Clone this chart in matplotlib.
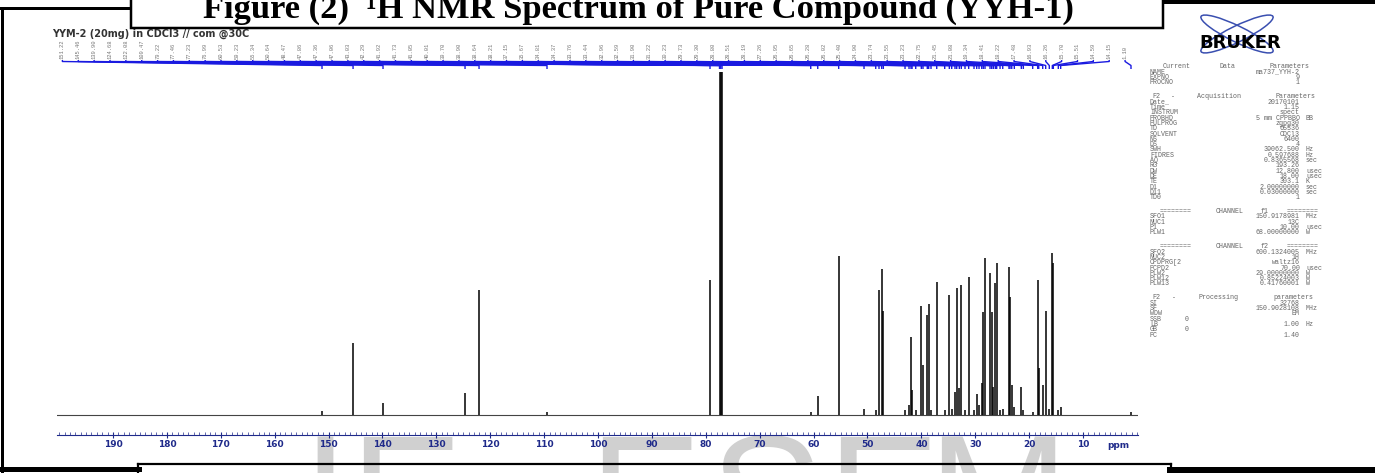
import matplotlib
matplotlib.use('Agg')
import matplotlib.pyplot as plt
import matplotlib.transforms as mtransforms
from matplotlib.collections import LineCollection
from matplotlib.patches import Rectangle, Ellipse
from matplotlib.ticker import MultipleLocator
import numpy as np

# picked peaks: position (ppm) and height (arbitrary units, baseline = 0)
peak_ppm = [151.22, 145.46, 139.90, 124.68, 122.08, 109.47, 79.22, 77.46, 77.23, 76.99,
            60.53, 59.23, 55.34, 50.64, 48.47, 47.86, 47.36, 47.06, 43.03, 42.29,
            41.92, 41.73, 41.05, 40.01, 39.70, 38.90, 38.64, 38.21, 37.15, 35.67,
            34.81, 34.37, 33.76, 33.44, 32.96, 32.59, 31.90, 31.22, 30.23, 29.73,
            29.30, 28.80, 28.51, 28.19, 27.26, 26.95, 26.65, 26.28, 26.02, 25.40,
            24.90, 23.74, 23.55, 23.23, 22.75, 21.45, 21.08, 19.34, 18.41, 18.22,
            17.48, 16.93, 16.26, 15.70, 15.51, 14.59, 14.15, 1.10]
peak_height = [4, 72, 12, 22, 125, 3, 135, 400, 420, 400,
               3, 19, 159, 6, 5, 125, 146, 104, 5, 10,
               78, 25, 5, 109, 50, 100, 111, 5, 133, 5,
               120, 6, 23, 127, 27, 130, 5, 138, 5, 21,
               10, 32, 103, 157, 142, 103, 28, 132, 152, 5,
               6, 148, 118, 30, 8, 28, 5, 3, 135, 47,
               30, 104, 6, 162, 152, 5, 8, 3]

tick_ppm = list(range(10, 200, 10))

title = 'Figure (2)  \u00b9H NMR Spectrum of Pure Compound (YYH-1)'
sample = 'YYM-2 (20mg) in CDCl3 // com @30C'

# faint page watermark, only the tops of the letters show
mark_letters = ['I', 'E', 'E', 'S', 'E', 'M']
mark_x = [301, 349, 588, 709, 826, 927]

param_lines = [
    ['Current Data Parameters'],
    ['NAME', 'ma737_YYH-2', ''],
    ['EXPNO', '9', ''],
    ['PROCNO', '1', ''],
    None,
    ['F2 - Acquisition Parameters'],
    ['Date_', '20170101', ''],
    ['Time', '1.15', ''],
    ['INSTRUM', 'spect', ''],
    ['PROBHD', '5 mm CPPBBO', 'BB'],
    ['PULPROG', 'zgpg30', ''],
    ['TD', '65536', ''],
    ['SOLVENT', 'CDCl3', ''],
    ['NS', '6400', ''],
    ['DS', '4', ''],
    ['SWH', '39062.500', 'Hz'],
    ['FIDRES', '0.597688', 'Hz'],
    ['AQ', '0.8365568', 'sec'],
    ['RG', '193.26', ''],
    ['DW', '12.800', 'usec'],
    ['DE', '18.00', 'usec'],
    ['TE', '303.1', 'K'],
    ['D1', '2.00000000', 'sec'],
    ['D11', '0.03000000', 'sec'],
    ['TD0', '1', ''],
    None,
    ['======== CHANNEL f1 ========'],
    ['SFO1', '150.9178981', 'MHz'],
    ['NUC1', '13C', ''],
    ['P1', '10.00', 'usec'],
    ['PLW1', '68.00000000', 'W'],
    None,
    ['======== CHANNEL f2 ========'],
    ['SFO2', '600.1324005', 'MHz'],
    ['NUC2', '1H', ''],
    ['CPDPRG[2', 'waltz16', ''],
    ['PCPD2', '70.00', 'usec'],
    ['PLW2', '29.00000000', 'W'],
    ['PLW12', '0.85224003', 'W'],
    ['PLW13', '0.41760001', 'W'],
    None,
    ['F2 - Processing parameters'],
    ['SI', '32768', ''],
    ['SF', '150.9028108', 'MHz'],
    ['WDW', 'EM', ''],
    ['SSB', '0', ''],
    ['LB', '1.00', 'Hz'],
    ['GB', '0', ''],
    ['PC', '1.40', ''],
]

W, H = 1375, 473
fig = plt.figure(figsize=(W / 100, H / 100), dpi=100)

# overlay in pixel units for the page decorations
over = fig.add_axes([0, 0, 1, 1])
over.set_xlim(0, W)
over.set_ylim(H, 0)
over.axis('off')

for ch, mx in zip(mark_letters, mark_x):
    over.text(mx, 553, ch, family='Liberation Sans', fontsize=122, color='#d0d0d0',
              ha='left', va='baseline', zorder=0)

# spectrum axes
ax = fig.add_axes([57 / W, 1 - 435 / H, (1138 - 57) / W, (435 - 72) / H], zorder=2)
ax.patch.set_alpha(0)
ax.set_xlim(200.4, -0.2)
ax.set_ylim(-20, 343)
ax.axhline(0, color='#444444', lw=0.8)
ax.vlines(peak_ppm, 0, peak_height, color='black', lw=1.1)
ax.set_yticks([])
for s in ['left', 'right', 'top']:
    ax.spines[s].set_visible(False)
navy = '#1f2a8a'
ax.spines['bottom'].set_color(navy)
ax.spines['bottom'].set_linewidth(0.8)
ax.spines['bottom'].set_linestyle((0, (2, 1)))
ax.set_xticks(tick_ppm)
ax.set_xticklabels([str(t) for t in tick_ppm], fontsize=6.5, fontweight='bold', color=navy)
ax.xaxis.set_minor_locator(MultipleLocator(1))
ax.tick_params(axis='x', which='major', direction='inout', length=5, width=0.8, color=navy, pad=1)
ax.tick_params(axis='x', which='minor', direction='in', length=2, width=0.5, color=navy)
ax.text(3.5, -26, 'ppm', fontsize=6.5, fontweight='bold', color=navy,
        ha='center', va='top')

# peak labels and connectors above the spectrum
blend = mtransforms.blended_transform_factory(ax.transData, over.transData)
order = np.argsort(peak_ppm)[::-1]
lab_x = np.linspace(199.4, 2.2, len(peak_ppm))
segs = []
for lx, i in zip(lab_x, order):
    px = peak_ppm[i]
    segs.append([(lx, 60), (lx, 61.5), (px, 65.5), (px, 69)])
    ax.text(lx, 59, f'{px:.2f}', transform=blend, rotation=90, fontsize=4,
            color='#777777', ha='center', va='bottom', clip_on=False,
            family='Liberation Mono')
lc = LineCollection(segs, colors='#1a1ae0', linewidths=1.0, transform=blend, clip_on=False)
ax.add_collection(lc)

over.text(52, 33.5, sample, fontsize=7, fontweight='bold', color='#333333',
          ha='left', va='center')

# frame of the page
k = 0.72
over.plot([2, 2], [8, 473], color='black', lw=3 * k, solid_capstyle='butt')
over.plot([0, 132], [8.5, 8.5], color='black', lw=3 * k)
over.add_patch(Rectangle((131.5, -5), 1163.5 - 131.5, 33, facecolor='white',
                         edgecolor='black', lw=2.5 * k, zorder=3))
over.plot([1163, W], [2, 2], color='black', lw=4 * k)
over.plot([0, 139], [469, 469], color='black', lw=5 * k)
over.plot([138.5, 1171], [464, 464], color='black', lw=2.2 * k)
over.plot([138.5, 138.5], [464, 473], color='black', lw=2.2 * k)
over.plot([1171, 1171], [464, 473], color='black', lw=2.2 * k)
over.plot([1170, W], [469.5, 469.5], color='black', lw=6 * k)
over.text(203, 18, title, family='Liberation Serif', fontweight='bold', fontsize=24.8,
          ha='left', va='baseline', zorder=4)

# Bruker logo
over.add_patch(Ellipse((1237, 34), 80, 16, angle=26, fill=False, ec='#3a4fb0', lw=1.1))
over.add_patch(Ellipse((1237, 34), 80, 16, angle=-26, fill=False, ec='#3a4fb0', lw=1.1))
over.text(1240, 43.5, 'BRUKER', fontsize=13, fontweight='bold', family='DejaVu Sans',
          ha='center', va='center', color='black', zorder=4)

# parameter panel
x_lab, x_val, x_unit, x_end = 1150, 1300, 1306, 1328
y = 67
gray = '#666666'
pfont = dict(fontsize=4.8, family='Liberation Mono', color=gray, va='center')
for line in param_lines:
    if line is None:
        y += 8.7
        continue
    if len(line) == 1:
        words = line[0].split()
        n = len(line[0])
        pos = 0
        for w in words:
            start = line[0].index(w, pos)
            c = (start + len(w) / 2) / n
            over.text(x_lab + c * (x_end - x_lab), y, w, ha='center', **pfont)
            pos = start + len(w)
    else:
        lab, val, unit = line
        over.text(x_lab, y, lab, ha='left', **pfont)
        if lab in ('SSB', 'GB'):
            over.text(1185, y, val, ha='left', **pfont)
        else:
            over.text(x_val, y, val, ha='right', **pfont)
        if unit:
            over.text(x_unit, y, unit, ha='left', **pfont)
    y += 5.3

fig.savefig('out.png', dpi=100)
